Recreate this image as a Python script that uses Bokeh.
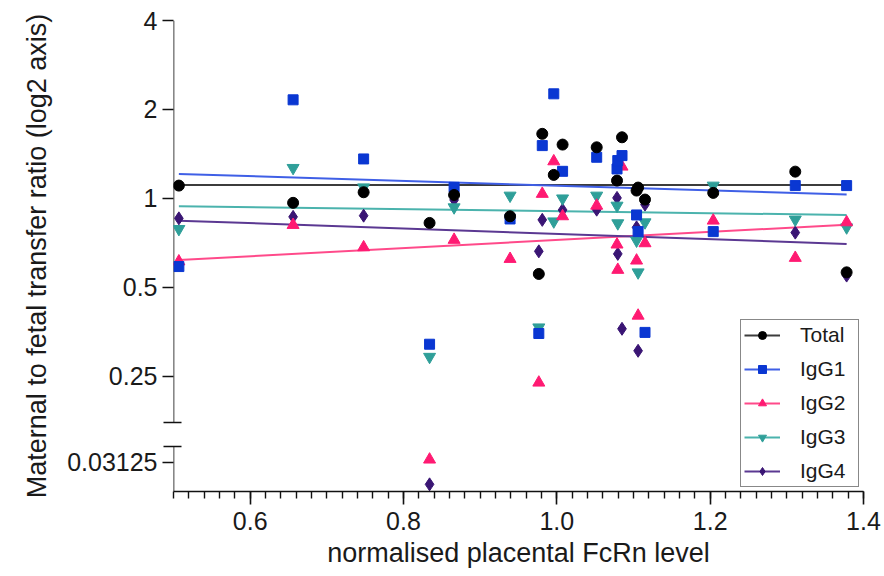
import numpy as np
from bokeh.plotting import figure
from bokeh.models import (Range1d, LogScale, FixedTicker, Whisker,
                          Legend, LegendItem, ColumnDataSource)
from bokeh.embed import file_html
from bokeh.resources import INLINE

# ---------------- data ----------------
FCRN = [0.507, 0.656, 0.748, 0.834, 0.866, 0.939, 0.9765, 0.981, 0.996, 1.0075,
        1.052, 1.0785, 1.0795, 1.085, 1.104, 1.106, 1.115, 1.204, 1.311, 1.378]
NAN = float("nan")
TOTAL = [1.105, 0.966, 1.049, 0.826, 1.027, 0.870, 0.555, 1.654, 1.201, 1.521,
         1.489, 1.149, NAN, 1.610, 1.063, 1.088, 0.991, 1.044, 1.232, 0.562]
IGG1 = [0.588, 2.156, 1.360, 0.321, 1.090, 0.852, 0.349, 1.509, 2.259, 1.235,
        1.378, 1.258, 1.343, 1.396, 0.879, 0.772, 0.352, 0.772, 1.105, 1.105]
IGG2 = [0.612, 0.813, 0.683, 0.0319, 0.724, 0.624, 0.238, 1.036, 1.335, 0.870,
        0.945, 0.698, 0.573, 1.281, 0.616, 0.401, 0.705, 0.841, 0.629, 0.830]
IGG3 = [0.788, 1.268, 1.090, 0.291, 0.933, 1.022, 0.366, NAN, 0.836, 1.000,
        1.022, 0.945, 0.824, NAN, 0.720, 0.562, 0.830, 1.105, 0.848, 0.798]
IGG4 = [0.856, 0.866, 0.874, 0.0263, 0.988, NAN, 0.662, 0.846, NAN, 0.914,
        0.916, 1.004, 0.649, 0.362, 0.798, 0.305, 0.953, NAN, 0.766, 0.548]

SERIES_NAMES = ["Total", "IgG1", "IgG2", "IgG3", "IgG4"]

# regression lines (end points)
FIT_X = [0.507, 1.378]
FIT_TOTAL = [1.11, 1.11]
FIT_IGG1 = [1.21, 1.03]
FIT_IGG2 = [0.619, 0.815]
FIT_IGG3 = [0.94, 0.879]
FIT_IGG4 = [0.841, 0.701]

X_TICKS = [0.6, 0.8, 1.0, 1.2, 1.4]
X_TICK_LABELS = ["0.6", "0.8", "1.0", "1.2", "1.4"]
Y_TICKS = [0.25, 0.5, 1, 2, 4]
Y_TICK_LABELS = ["0.25", "0.5", "1", "2", "4"]
Y_LOW_TICKS = [0.03125]
Y_LOW_TICK_LABELS = ["0.03125"]

# ---------------- layout / style ----------------
X_MIN, X_MAX = 0.5, 1.4
Y_MIN, Y_MAX = 2 ** -3.295, 4.0
LOW_SHIFT = 4.096          # lower (broken) segment shown this factor higher
BREAK = 0.1                # values below go to the lower segment
UPPER_SEG_BOTTOM = 0.1746  # end of upper axis piece
LOWER_SEG_TOP = 0.0352     # top of lower axis piece (lower-segment units)

FONT = "Liberation Sans"
AXIS_COLOR = "#111111"
COLORS = ["#000000", "#0a37d2", "#ff1a72", "#2f9f99", "#3a1574"]
LINE_COLORS = ["#3c3c3c", "#3f5fe6", "#ff4a8a", "#4bb3ad", "#5b3892"]
MARKERS = ["circle", "square", "triangle", "inverted_triangle", "diamond"]
SIZES = [11, 10, 12, 12, 13]

p = figure(width=884, height=576, output_backend="svg", toolbar_location=None,
           x_range=Range1d(X_MIN, X_MAX), y_range=Range1d(Y_MIN, Y_MAX),
           y_axis_type="log",
           min_border_left=173, min_border_right=21,
           min_border_top=20, min_border_bottom=85)
p.extra_y_ranges = {"low": Range1d(Y_MIN / LOW_SHIFT, Y_MAX / LOW_SHIFT)}
p.extra_y_scales = {"low": LogScale()}
p.outline_line_color = None
p.xgrid.visible = False
p.ygrid.visible = False
p.background_fill_color = "white"
p.border_fill_color = "white"

# x axis
minor = [round(v, 2) for v in np.arange(0.5, 1.4001, 0.02)]
p.xaxis.ticker = FixedTicker(ticks=X_TICKS, minor_ticks=minor)
p.xaxis.major_label_overrides = dict(zip(X_TICKS, X_TICK_LABELS))
p.xaxis.axis_line_width = 1.6
p.xaxis.axis_line_color = AXIS_COLOR
p.xaxis.major_tick_out = 13
p.xaxis.major_tick_in = 0
p.xaxis.minor_tick_out = 7
p.xaxis.minor_tick_in = 0
p.xaxis.major_tick_line_width = 1.6
p.xaxis.minor_tick_line_width = 1.4
p.xaxis.major_label_standoff = 7
p.xaxis.axis_label = "normalised placental FcRn level"
p.xaxis.axis_label_standoff = 5

# y axis (broken: the axis line is drawn in two pieces, caps are minor ticks)
low_tick_pos = [t * LOW_SHIFT for t in Y_LOW_TICKS]
cap_pos = [UPPER_SEG_BOTTOM, LOWER_SEG_TOP * LOW_SHIFT]
p.yaxis.ticker = FixedTicker(ticks=low_tick_pos + Y_TICKS, minor_ticks=cap_pos)
ov = dict(zip(Y_TICKS, Y_TICK_LABELS))
ov.update(dict(zip(low_tick_pos, Y_LOW_TICK_LABELS)))
p.yaxis.major_label_overrides = ov
p.yaxis.axis_line_color = None
p.yaxis.major_tick_out = 11
p.yaxis.major_tick_in = 0
p.yaxis.minor_tick_out = 10
p.yaxis.minor_tick_in = 8
p.yaxis.major_tick_line_width = 1.6
p.yaxis.minor_tick_line_width = 1.6
p.yaxis.major_label_standoff = 5
p.yaxis.axis_label = "Maternal to fetal transfer ratio (log2 axis)"
p.yaxis.axis_label_standoff = 12

for ax in (p.xaxis, p.yaxis):
    ax.major_label_text_font = FONT
    ax.major_label_text_font_size = "25px"
    ax.major_label_text_color = "#1a1a1a"
    ax.axis_label_text_font = FONT
    ax.axis_label_text_font_size = "27px"
    ax.axis_label_text_font_style = "normal"
    ax.axis_label_text_color = "#1a1a1a"
    ax.major_tick_line_color = AXIS_COLOR
    ax.minor_tick_line_color = AXIS_COLOR

# the two pieces of the broken y-axis line
up_src = ColumnDataSource(dict(base=[X_MIN], lower=[UPPER_SEG_BOTTOM], upper=[Y_MAX]))
p.add_layout(Whisker(source=up_src, base="base", lower="lower", upper="upper",
                     dimension="height", line_color=AXIS_COLOR, line_width=1.6,
                     upper_head=None, lower_head=None))
lo_src = ColumnDataSource(dict(base=[X_MIN], lower=[Y_MIN / LOW_SHIFT], upper=[LOWER_SEG_TOP]))
p.add_layout(Whisker(source=lo_src, base="base", lower="lower", upper="upper",
                     y_range_name="low",
                     dimension="height", line_color=AXIS_COLOR, line_width=1.6,
                     upper_head=None, lower_head=None))

series = [TOTAL, IGG1, IGG2, IGG3, IGG4]
fits = [FIT_TOTAL, FIT_IGG1, FIT_IGG2, FIT_IGG3, FIT_IGG4]
x_arr = np.array(FCRN)

line_rs = []
for i in range(5):
    line_rs.append(p.line(FIT_X, fits[i], line_color=LINE_COLORS[i], line_width=2))

scatter_rs = [None] * 5
for i in reversed(range(5)):
    y = np.array(series[i], dtype=float)
    ok = ~np.isnan(y)
    hi = ok & (y >= BREAK)
    lo = ok & (y < BREAK)
    scatter_rs[i] = p.scatter(x_arr[hi], y[hi], marker=MARKERS[i], size=SIZES[i],
                              fill_color=COLORS[i], line_color=COLORS[i])
    if lo.any():
        p.scatter(x_arr[lo], y[lo], marker=MARKERS[i], size=SIZES[i],
                  fill_color=COLORS[i], line_color=COLORS[i], y_range_name="low")

legend = Legend(items=[LegendItem(label=SERIES_NAMES[i], renderers=[line_rs[i], scatter_rs[i]])
                       for i in range(5)],
                location="bottom_right", margin=4, padding=3, spacing=10,
                glyph_width=36, glyph_height=20, label_height=20, label_width=55,
                label_standoff=20, label_text_font=FONT, label_text_font_size="21px",
                label_text_color="#1a1a1a",
                border_line_color=AXIS_COLOR, border_line_width=1.6,
                background_fill_color="white", background_fill_alpha=1.0)
p.add_layout(legend)

open("out.html", "w").write(file_html(p, INLINE))
